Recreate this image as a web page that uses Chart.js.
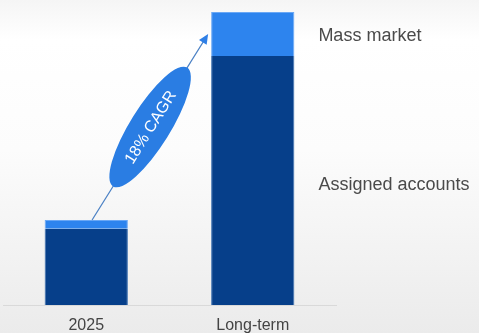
<!DOCTYPE html>
<html>
<head>
<meta charset="utf-8">
<script src="https://cdn.jsdelivr.net/npm/chart.js@4/dist/chart.umd.min.js"></script>
<style>
    html, body { margin: 0; padding: 0; }
    body {
        width: 479px;
        height: 333px;
        background: linear-gradient(#f5f5f5 0%, #ffffff 12%, #fcfcfc 45%, #ebebeb 100%);
        font-family: 'Liberation Sans', Arial, sans-serif;
    }
    #wrap { position: relative; width: 479px; height: 333px; }
</style>
</head>
<body>
<div id="wrap"><canvas id="chart"></canvas></div>
<script>
const categories = ['2025', 'Long-term']
const assignedAccounts = [26, 85]
const massMarket = [3, 15]
const segmentLabels = ['Assigned accounts', 'Mass market']
const cagrLabel = '18% CAGR'

const DARK = '#063f8a'
const LIGHT = '#2d84ee'

// arrow + ellipse between the two bars, and the segment names on the right
const annotations = {
    id: 'annotations',
    afterDatasetsDraw(chart) {
        const ctx = chart.ctx
        const y = chart.scales.y
        const bar1 = chart.getDatasetMeta(1).data[0]
        const bar2 = chart.getDatasetMeta(1).data[1]

        const total1 = assignedAccounts[0] + massMarket[0]
        const total2 = assignedAccounts[1] + massMarket[1]

        const x0 = bar1.x + bar1.width * 0.07
        const y0 = y.getPixelForValue(total1)
        const x1 = bar2.x - bar2.width / 2 - 3
        const y1 = y.getPixelForValue(total2 - massMarket[1] / 2)
        const ang = Math.atan2(y1 - y0, x1 - x0)

        ctx.save()
        ctx.strokeStyle = '#4a80c4'
        ctx.fillStyle = '#2f7fe6'
        ctx.lineWidth = 1.2
        ctx.beginPath()
        ctx.moveTo(x0, y0)
        ctx.lineTo(x1 - Math.cos(ang) * 6, y1 - Math.sin(ang) * 6)
        ctx.stroke()

        // arrow head
        ctx.translate(x1, y1)
        ctx.rotate(ang)
        ctx.beginPath()
        ctx.moveTo(0, 0)
        ctx.lineTo(-10, -4.5)
        ctx.lineTo(-10, 4.5)
        ctx.closePath()
        ctx.fill()
        ctx.restore()

        // ellipse with label
        const cx = (x0 + x1) / 2
        const cy = (y0 + y1) / 2
        ctx.save()
        ctx.translate(cx, cy)
        ctx.rotate(ang)
        ctx.fillStyle = '#2a7de3'
        ctx.beginPath()
        ctx.ellipse(0, 0, 70, 20, 0, 0, Math.PI * 2)
        ctx.fill()
        ctx.fillStyle = '#ffffff'
        ctx.font = '16px "Liberation Sans", Arial, sans-serif'
        ctx.textAlign = 'center'
        ctx.textBaseline = 'middle'
        ctx.fillText(cagrLabel, 0, 1)
        ctx.restore()

        // segment names
        ctx.save()
        ctx.fillStyle = '#4a4a4a'
        ctx.font = '18px "Liberation Sans", Arial, sans-serif'
        ctx.textAlign = 'left'
        ctx.textBaseline = 'middle'
        const lx = bar2.x + bar2.width / 2 + 24
        ctx.fillText(segmentLabels[1], lx, y.getPixelForValue(total2 - massMarket[1] / 2) + 2)
        ctx.fillText(segmentLabels[0], lx, y.getPixelForValue(assignedAccounts[1] / 2) + 5)
        ctx.restore()
    }
}

new Chart(document.getElementById('chart'), {
    type: 'bar',
    data: {
        labels: categories,
        datasets: [
            {
                label: segmentLabels[0],
                data: assignedAccounts,
                backgroundColor: DARK,
                borderColor: '#3a6fb0',
                borderWidth: { left: 1, right: 1, top: 0, bottom: 0 },
                borderSkipped: false
            },
            {
                label: segmentLabels[1],
                data: massMarket,
                backgroundColor: LIGHT,
                borderColor: '#6aa8f5',
                borderWidth: { left: 1, right: 1, top: 1, bottom: 0 },
                borderSkipped: false
            }
        ]
    },
    options: {
        responsive: true,
        maintainAspectRatio: false,
        animation: false,
        layout: { padding: { left: 3, right: 143, top: 12, bottom: -1 } },
        plugins: {
            legend: { display: false },
            tooltip: { enabled: false }
        },
        datasets: {
            bar: { categoryPercentage: 1, barPercentage: 0.5 }
        },
        scales: {
            x: {
                stacked: true,
                grid: { display: false, drawTicks: true, tickLength: 13 },
                border: { display: true, color: '#d9d9d9', width: 1 },
                ticks: {
                    color: '#444',
                    padding: 0,
                    font: { family: '"Liberation Sans", Arial, sans-serif', size: 16, lineHeight: 1 }
                }
            },
            y: {
                stacked: true,
                display: false,
                min: 0,
                max: 100
            }
        }
    },
    plugins: [annotations]
})
</script>
</body>
</html>
